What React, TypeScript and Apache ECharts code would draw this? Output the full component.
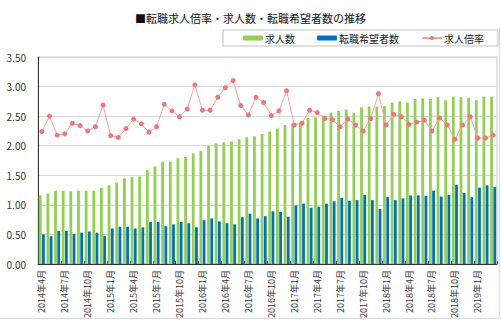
import React, { useEffect, useRef } from "react";
import * as echarts from "echarts";

const categories = [
  "2014年4月","2014年5月","2014年6月","2014年7月","2014年8月","2014年9月","2014年10月","2014年11月","2014年12月",
  "2015年1月","2015年2月","2015年3月","2015年4月","2015年5月","2015年6月","2015年7月","2015年8月","2015年9月","2015年10月","2015年11月","2015年12月",
  "2016年1月","2016年2月","2016年3月","2016年4月","2016年5月","2016年6月","2016年7月","2016年8月","2016年9月","2016年10月","2016年11月","2016年12月",
  "2017年1月","2017年2月","2017年3月","2017年4月","2017年5月","2017年6月","2017年7月","2017年8月","2017年9月","2017年10月","2017年11月","2017年12月",
  "2018年1月","2018年2月","2018年3月","2018年4月","2018年5月","2018年6月","2018年7月","2018年8月","2018年9月","2018年10月","2018年11月","2018年12月",
  "2019年1月","2019年2月","2019年3月",
];

const jobOffers = [
  1.16, 1.19, 1.24, 1.24, 1.23, 1.24, 1.24, 1.24, 1.29, 1.33,
  1.38, 1.45, 1.47, 1.48, 1.59, 1.65, 1.73, 1.73, 1.79, 1.81,
  1.87, 1.91, 2.0, 2.04, 2.06, 2.07, 2.11, 2.14, 2.16, 2.2,
  2.24, 2.29, 2.35, 2.37, 2.39, 2.47, 2.48, 2.51, 2.56, 2.59,
  2.61, 2.56, 2.65, 2.66, 2.66, 2.67, 2.73, 2.75, 2.73, 2.79,
  2.8, 2.79, 2.82, 2.77, 2.83, 2.82, 2.81, 2.77, 2.83, 2.83,
];

const jobSeekers = [
  0.5, 0.47, 0.56, 0.56, 0.51, 0.53, 0.55, 0.53, 0.47, 0.6,
  0.63, 0.63, 0.6, 0.62, 0.71, 0.71, 0.64, 0.67, 0.71, 0.69,
  0.62, 0.74, 0.77, 0.72, 0.69, 0.67, 0.79, 0.85, 0.77, 0.81,
  0.89, 0.88, 0.8, 0.99, 1.02, 0.95, 0.97, 1.02, 1.06, 1.12,
  1.07, 1.08, 1.17, 1.08, 0.93, 1.13, 1.08, 1.11, 1.16, 1.16,
  1.15, 1.24, 1.14, 1.17, 1.34, 1.2, 1.13, 1.29, 1.33, 1.3,
];

const offerRatio = [
  2.24, 2.5, 2.18, 2.2, 2.38, 2.34, 2.25, 2.32, 2.69, 2.17,
  2.14, 2.29, 2.45, 2.37, 2.23, 2.32, 2.7, 2.59, 2.49, 2.62,
  3.03, 2.6, 2.6, 2.82, 2.98, 3.1, 2.68, 2.52, 2.82, 2.73,
  2.51, 2.59, 2.93, 2.35, 2.38, 2.6, 2.56, 2.46, 2.44, 2.32,
  2.45, 2.35, 2.25, 2.46, 2.88, 2.35, 2.53, 2.49, 2.36, 2.4,
  2.43, 2.25, 2.47, 2.35, 2.11, 2.35, 2.49, 2.13, 2.13, 2.18,
];

const seriesNames = ["求人数", "転職希望者数", "求人倍率"];
const titleText = "■転職求人倍率・求人数・転職希望者数の推移";

const FONT = '"Noto Sans CJK JP", "Noto Sans", sans-serif';

export default function App() {
  const ref = useRef<HTMLDivElement>(null);
  useEffect(() => {
    if (!ref.current) return;
    const chart = echarts.init(ref.current, undefined, { renderer: "svg" });
    chart.setOption({
      animation: false,
      backgroundColor: "#ffffff",
      textStyle: { fontFamily: FONT },
      title: {
        text: titleText,
        left: "center",
        top: 7,
        textStyle: { fontSize: 11, fontWeight: "normal", color: "#111", fontFamily: FONT },
      },
      legend: {
        data: seriesNames,
        left: 223,
        top: 30,
        padding: [3, 14, 3, 20],
        itemWidth: 20,
        itemHeight: 5,
        itemGap: 22,
        borderColor: "#bfbfbf",
        borderWidth: 1,
        textStyle: { fontSize: 10, color: "#222", fontFamily: FONT, padding: [0, 0, 0, -3] },
      },
      grid: {
        left: 38,
        right: 4,
        top: 57,
        bottom: 57,
        show: true,
        borderColor: "#c8c8c8",
        borderWidth: 1,
      },
      xAxis: {
        type: "category",
        data: categories,
        boundaryGap: true,
        axisLine: { lineStyle: { color: "#333", width: 1 } },
        axisTick: { show: true, interval: 2, inside: true, length: 3, alignWithLabel: false, lineStyle: { color: "#333" } },
        axisLabel: { interval: 2, rotate: 90, fontSize: 9, color: "#333", margin: 6, fontFamily: FONT },
      },
      yAxis: {
        type: "value",
        min: 0,
        max: 3.5,
        interval: 0.5,
        axisLine: { show: true, lineStyle: { color: "#333", width: 1 } },
        axisTick: { show: false },
        splitLine: { lineStyle: { color: "#d9d9d9", width: 1 } },
        axisLabel: {
          fontSize: 10,
          color: "#333",
          margin: 12,
          fontFamily: FONT,
          formatter: (v: number) => v.toFixed(2),
        },
      },
      series: [
        {
          name: seriesNames[0],
          type: "bar",
          data: jobOffers,
          barWidth: 2.8,
          barGap: "15%",
          itemStyle: { color: "#92d050" },
        },
        {
          name: seriesNames[1],
          type: "bar",
          data: jobSeekers,
          barWidth: 2.8,
          barGap: "15%",
          itemStyle: { color: "#0070c0" },
        },
        {
          name: seriesNames[2],
          type: "line",
          data: offerRatio,
          symbol: "circle",
          symbolSize: 5,
          lineStyle: { color: "#f4a3a6", width: 1 },
          itemStyle: { color: "#f0757c" },
        },
      ],
      graphic: [
        {
          type: "polyline",
          shape: { points: [[499.5, 28], [499.5, 318.5], [0, 318.5]] },
          style: { stroke: "#d9d9d9", lineWidth: 1, fill: null },
          silent: true,
        },
      ],
    });
    return () => chart.dispose();
  }, []);
  return <div ref={ref} style={{ width: 501, height: 321, position: "absolute", left: 0, top: 0 }} />;
}
